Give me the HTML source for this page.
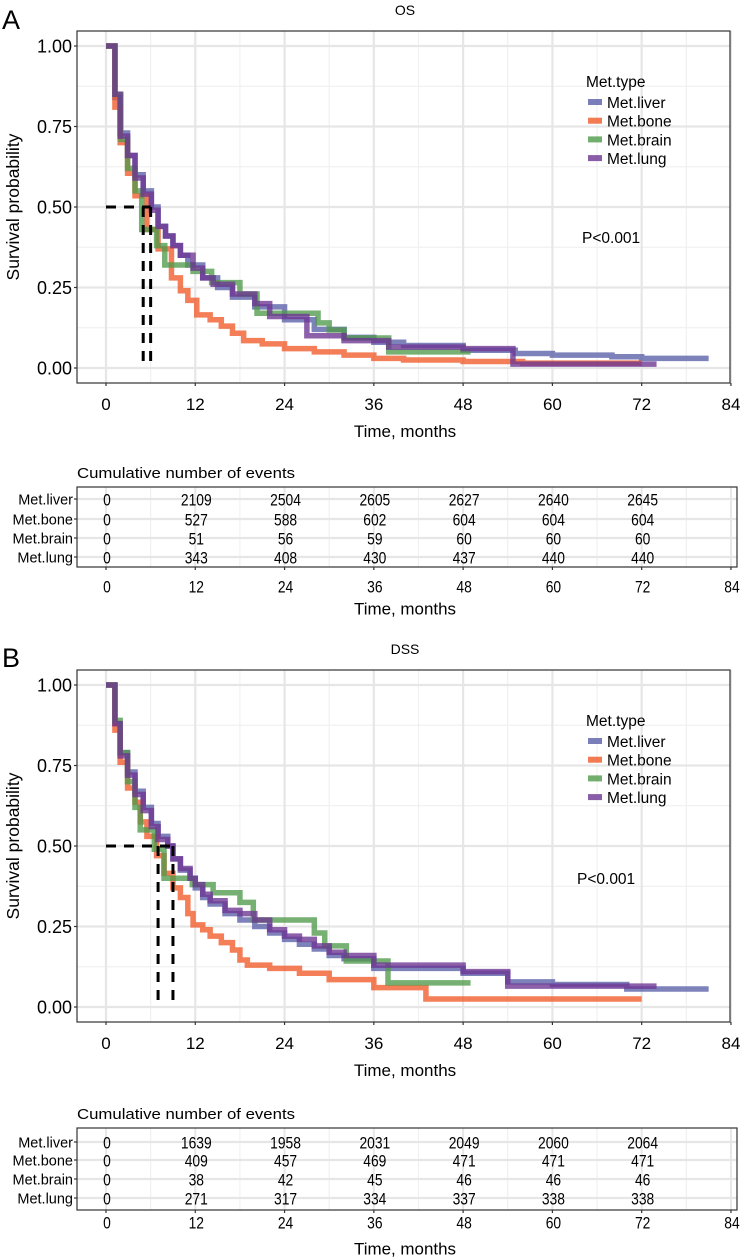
<!DOCTYPE html>
<html><head><meta charset="utf-8">
<style>
html,body{margin:0;padding:0;background:#fff;}
svg{display:block;font-family:"Liberation Sans",Arial,sans-serif;}
</style></head>
<body>
<svg id="chart" width="741" height="1258" viewBox="0 0 741 1258" xmlns="http://www.w3.org/2000/svg"></svg>
<script>
// ---- data ----
const seriesNames = ["Met.liver","Met.bone","Met.brain","Met.lung"];
const seriesColors = ["#5a5fa8","#f05a28","#4f9a4a","#6b3592"];
const timeTicks = [0,12,24,36,48,60,72,84];
const survTicks = [0,0.25,0.5,0.75,1];
const survTickLabels = ["0.00","0.25","0.50","0.75","1.00"];
const tableTimes = [0,12,24,36,48,60,72];

const osLiverT = [0,1.2,1.9,2.9,3.9,5,6.1,7,8,9,10,11,13,15,17,20,24,28,32,36,40,48,55,60,68,72,81];
const osLiverS = [1,0.84,0.73,0.66,0.6,0.55,0.5,0.44,0.41,0.38,0.35,0.32,0.28,0.25,0.22,0.19,0.15,0.12,0.095,0.08,0.07,0.055,0.045,0.04,0.035,0.03,0.03];
const osBoneT = [0,1.2,1.9,2.9,3.9,5.5,7,8.8,10,11,12.2,14,15.5,17,18.5,21,24,28,32,36,40,48,56,72];
const osBoneS = [1,0.81,0.7,0.605,0.535,0.43,0.37,0.28,0.24,0.21,0.165,0.15,0.13,0.108,0.085,0.075,0.06,0.05,0.04,0.03,0.025,0.02,0.015,0.015];
const osBrainT = [0,1.2,2,2.9,3.9,4.8,6.8,7.9,11.7,14.2,18,20.3,28.5,30,32,38,49];
const osBrainS = [1,0.85,0.71,0.62,0.55,0.43,0.38,0.32,0.3,0.265,0.23,0.17,0.14,0.118,0.093,0.05,0.05];
const osLungT = [0,1.2,1.9,2.9,3.9,5,6.1,7,8,9,10,11.7,13,14.4,17,20,22,27,32,38,48,54.7,74];
const osLungS = [1,0.85,0.72,0.66,0.59,0.54,0.49,0.44,0.41,0.38,0.35,0.31,0.28,0.26,0.23,0.2,0.16,0.1,0.085,0.065,0.06,0.012,0.012];
const osMedians = [5,6];

const dssLiverT = [0,1.2,1.9,2.9,3.9,5,6.1,7,8.3,9,10,11.3,12,13,14,16,18,20,22,24,26,28,30,32,36,48,54,60,70,81];
const dssLiverS = [1,0.88,0.79,0.73,0.67,0.62,0.57,0.53,0.5,0.46,0.425,0.4,0.37,0.34,0.32,0.29,0.27,0.25,0.23,0.21,0.195,0.18,0.16,0.15,0.12,0.105,0.078,0.07,0.056,0.056];
const dssBoneT = [0,1.2,1.9,2.9,3.9,4.6,5.5,6.8,7.8,9,10,11,11.7,13,14,15.5,17,18,19,22,26,30,36,43,72];
const dssBoneS = [1,0.86,0.76,0.68,0.636,0.575,0.53,0.47,0.415,0.37,0.34,0.29,0.255,0.24,0.22,0.2,0.177,0.146,0.13,0.12,0.105,0.085,0.06,0.025,0.025];
const dssBrainT = [0,1.2,1.9,2.9,3.9,4.6,6.5,7.8,11.6,14.4,18,19.8,28,29.4,32.3,37.9,49];
const dssBrainS = [1,0.89,0.79,0.7,0.62,0.55,0.49,0.4,0.38,0.355,0.325,0.27,0.23,0.19,0.143,0.075,0.075];
const dssLungT = [0,1.2,1.9,2.9,3.9,5,6.1,7,8.3,9,10,11.3,12,13,14,16,18,20,22,24,26,28,30,32,36,48,54,74];
const dssLungS = [1,0.88,0.78,0.72,0.66,0.61,0.56,0.52,0.5,0.46,0.43,0.4,0.38,0.35,0.33,0.3,0.29,0.27,0.24,0.22,0.21,0.19,0.17,0.16,0.13,0.11,0.065,0.065];
const dssMedians = [7,9];

const osLiverEv = ["0","2109","2504","2605","2627","2640","2645"];
const osBoneEv = ["0","527","588","602","604","604","604"];
const osBrainEv = ["0","51","56","59","60","60","60"];
const osLungEv = ["0","343","408","430","437","440","440"];
const dssLiverEv = ["0","1639","1958","2031","2049","2060","2064"];
const dssBoneEv = ["0","409","457","469","471","471","471"];
const dssBrainEv = ["0","38","42","45","46","46","46"];
const dssLungEv = ["0","271","317","334","337","338","338"];

// ---- drawing ----
const svg = document.getElementById('chart');
const NS = "http://www.w3.org/2000/svg";
function mk(tag, attrs, parent){
  const e = document.createElementNS(NS, tag);
  for (const k in attrs) e.setAttribute(k, attrs[k]);
  (parent || svg).appendChild(e);
  return e;
}
function txt(s, attrs, parent){ const e = mk('text', attrs, parent); e.textContent = s; return e; }

const X0 = 106, PX = 7.44, LEFT = 77, RIGHT = 730;
function xs(t){ return X0 + t * PX; }

function panel(p){
  const g = mk('g', {});
  
  
  const ys = v => p.y0 - v * 322;
  const top = p.y0 - 337, bottom = p.y0 + 15;

  const lt = txt(p.letter, {x:2, y:p.letterY, 'font-size':27}, g);
  
  
  const tt = txt(p.title, {x:405, y:top - 16, 'font-size':14, 'text-anchor':'middle'}, g);
  
  

  for (let t = 6; t <= 84; t += 12){
    const l = mk('line', {x1:xs(t), x2:xs(t), y1:top, y2:bottom, stroke:'#f0f0f0', 'stroke-width':1.2}, g);
    
    
  }
  for (let v = 0.125; v < 1.1; v += 0.25){
    const l = mk('line', {x1:LEFT, x2:RIGHT, y1:ys(v), y2:ys(v), stroke:'#f0f0f0', 'stroke-width':1.2}, g);
    
    
  }
  timeTicks.forEach(t => {
    const l = mk('line', {x1:xs(t), x2:xs(t), y1:top, y2:bottom, stroke:'#e6e6e6', 'stroke-width':2.2}, g);
    
    
  });
  survTicks.forEach(v => {
    const l = mk('line', {x1:LEFT, x2:RIGHT, y1:ys(v), y2:ys(v), stroke:'#e6e6e6', 'stroke-width':2.2}, g);
    
    
  });

  p.curves.forEach((c, i) => {
    const T = c[0], S = c[1];
    let d = 'M' + xs(T[0]) + ',' + ys(S[0]);
    for (let k = 1; k < T.length; k++){ d += ' H' + xs(T[k]) + ' V' + ys(S[k]); }
    const path = mk('path', {d:d, fill:'none', stroke:seriesColors[i], 'stroke-width':5.5, 'stroke-opacity':0.78, 'stroke-linejoin':'miter'}, g);
    
    
  });

  const medMax = Math.max.apply(null, p.medians);
  const hl = mk('line', {x1:xs(0), x2:xs(medMax), y1:ys(0.5), y2:ys(0.5), stroke:'#000', 'stroke-width':3, 'stroke-dasharray':'10,8'}, g);
  
  
  p.medians.forEach(m => {
    const vl = mk('line', {x1:xs(m), x2:xs(m), y1:ys(0.5), y2:ys(0), stroke:'#000', 'stroke-width':3, 'stroke-dasharray':'10,8'}, g);
    
    
  });

  const fr = mk('rect', {x:LEFT, y:top, width:RIGHT - LEFT, height:bottom - top, fill:'none', stroke:'#333', 'stroke-width':1.2}, g);
  
  

  survTicks.forEach((v, i) => {
    mk('line', {x1:LEFT - 3, x2:LEFT, y1:ys(v), y2:ys(v), stroke:'#333', 'stroke-width':1.2}, g);
    const lb = txt(survTickLabels[i], {x:LEFT - 5, y:ys(v) + 6.5, 'font-size':18, 'text-anchor':'end'}, g);
    
    
  });
  timeTicks.forEach(t => {
    mk('line', {x1:xs(t), x2:xs(t), y1:bottom, y2:bottom + 3, stroke:'#333', 'stroke-width':1.2}, g);
    const lb = txt(String(t), {x:xs(t), y:bottom + 27, 'font-size':17, 'text-anchor':'middle'}, g);
    
    
  });
  const xt = txt('Time, months', {x:405, y:bottom + 54, 'font-size':17, 'text-anchor':'middle'}, g);
  
  
  const yt = txt('Survival probability', {x:0, y:0, 'font-size':17.5, 'text-anchor':'middle', transform:'translate(19,' + ys(0.5) + ') rotate(-90)'}, g);
  
  

  const lg = mk('g', {}, g);
  
  
  const ltitle = txt('Met.type', {x:586, y:p.legendY + 6, 'font-size':15.5}, lg);
  
  
  seriesNames.forEach((n, i) => {
    const yy = p.legendY + 21 + i * 18.7;
    const key = mk('rect', {x:588, y:yy - 3, width:14, height:6, fill:seriesColors[i], 'fill-opacity':0.8}, lg);
    
    
    const lt2 = txt(n, {x:607, y:yy + 6, 'font-size':15.5}, lg);
    
    
  });
  const pv = txt('P<0.001', {x:p.pX, y:p.pY + 6, 'font-size':15.5}, g);
  
  

  const tg = mk('g', {}, g);
  
  
  const ct = txt('Cumulative number of events', {x:77, y:p.tab.title + 6, 'font-size':15, 'textLength':218, 'lengthAdjust':'spacingAndGlyphs'}, tg);
  
  
  for (let t = 6; t <= 84; t += 12){
    mk('line', {x1:xs(t), x2:xs(t), y1:p.tab.top, y2:p.tab.bottom, stroke:'#f0f0f0', 'stroke-width':1.2}, tg);
  }
  timeTicks.forEach(t => {
    mk('line', {x1:xs(t), x2:xs(t), y1:p.tab.top, y2:p.tab.bottom, stroke:'#e8e8e8', 'stroke-width':2}, tg);
  });
  p.tab.rows.forEach(ry => {
    mk('line', {x1:LEFT, x2:737, y1:ry, y2:ry, stroke:'#e6e6e6', 'stroke-width':2.2}, tg);
  });
  const tf = mk('rect', {x:LEFT, y:p.tab.top, width:737 - LEFT, height:p.tab.bottom - p.tab.top, fill:'none', stroke:'#333', 'stroke-width':1.2}, tg);
  
  
  p.events.forEach((row, i) => {
    const ry = p.tab.rows[i];
    const rl = txt(seriesNames[i], {x:LEFT - 4, y:ry + 5.5, 'font-size':14.5, 'text-anchor':'end'}, tg);
    
    
    mk('line', {x1:LEFT - 3, x2:LEFT, y1:ry, y2:ry, stroke:'#333', 'stroke-width':1.2}, tg);
    row.forEach((v, j) => {
      const c = txt(v, {x:xs(tableTimes[j]) + 1, y:ry + 6.5, 'font-size':17, 'text-anchor':'middle', 'textLength':v.length * 7.7, 'lengthAdjust':'spacingAndGlyphs'}, tg);
      
      
    });
  });
  timeTicks.forEach(t => {
    mk('line', {x1:xs(t), x2:xs(t), y1:p.tab.bottom, y2:p.tab.bottom + 3, stroke:'#333', 'stroke-width':1.2}, tg);
    const s = String(t);
    const lb = txt(s, {x:xs(t) + 1, y:p.tab.ticks + 6.5, 'font-size':17, 'text-anchor':'middle', 'textLength':s.length * 7.7, 'lengthAdjust':'spacingAndGlyphs'}, tg);
    
    
  });
  const tx = txt('Time, months', {x:405, y:p.tab.xtitle + 6.5, 'font-size':17, 'text-anchor':'middle', 'textLength':102, 'lengthAdjust':'spacingAndGlyphs'}, tg);
  
  
}

panel({
  id:'os', letter:'A', letterY:29, title:'OS', y0:368,
  curves:[[osLiverT, osLiverS],[osBoneT, osBoneS],[osBrainT, osBrainS],[osLungT, osLungS]],
  medians:osMedians, legendY:81, pX:582, pY:237,
  events:[osLiverEv, osBoneEv, osBrainEv, osLungEv],
  tab:{title:472, top:487, bottom:567, rows:[499,519,538,557], ticks:586, xtitle:608}
});
panel({
  id:'dss', letter:'B', letterY:667, title:'DSS', y0:1007,
  curves:[[dssLiverT, dssLiverS],[dssBoneT, dssBoneS],[dssBrainT, dssBrainS],[dssLungT, dssLungS]],
  medians:dssMedians, legendY:720, pX:577, pY:878,
  events:[dssLiverEv, dssBoneEv, dssBrainEv, dssLungEv],
  tab:{title:1113, top:1128, bottom:1210, rows:[1142,1160,1179,1198], ticks:1222, xtitle:1248}
});
</script>
</body></html>
